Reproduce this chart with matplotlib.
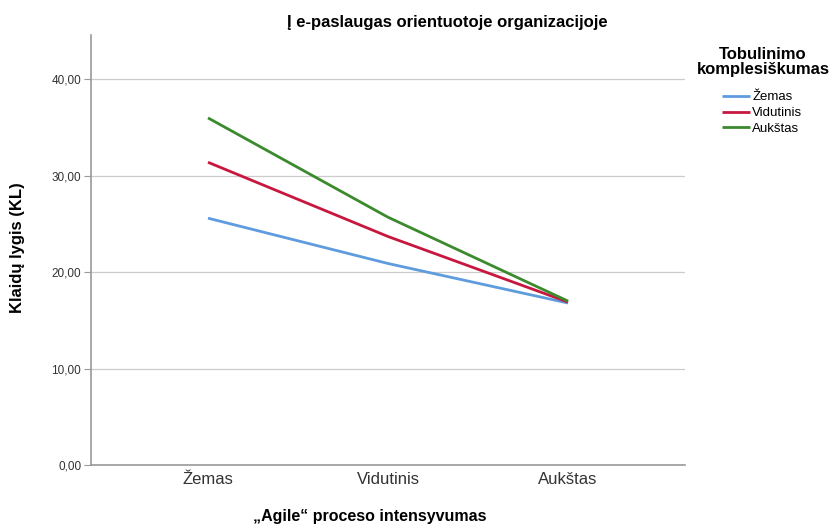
import matplotlib.pyplot as plt
from matplotlib.ticker import FuncFormatter

plt.rcParams['font.family'] = ['Liberation Sans', 'DejaVu Sans']

kategorijos = ["Žemas", "Vidutinis", "Aukštas"]
zemas = [25.6, 20.9, 16.8]
vidutinis = [31.4, 23.7, 16.9]
aukstas = [36.0, 25.7, 17.0]
serijos = ["Žemas", "Vidutinis", "Aukštas"]
spalvos = ["#5f9cde", "#c8173f", "#3b8a2e"]

fig = plt.figure(figsize=(8.33, 5.26), dpi=100)
ax = fig.add_axes([91/833, 1-465/526, (685-91)/833, (465-35)/526])

x = range(len(kategorijos))
for vals, lab, c in zip([zemas, vidutinis, aukstas], serijos, spalvos):
    ax.plot(x, vals, color=c, lw=2.0, label=lab, solid_capstyle="butt")

ax.set_xlim(-0.65, 2.65)
ax.set_ylim(0, 44.6)
ax.set_yticks([0, 10, 20, 30, 40])
ax.yaxis.set_major_formatter(FuncFormatter(lambda v, p: f"{v:.2f}".replace(".", ",")))
ax.set_xticks(list(x))
ax.set_xticklabels(kategorijos, fontsize=12, color="#333333")
ax.tick_params(axis="x", length=0, pad=5)
ax.tick_params(axis="y", length=5, color="#999999", labelsize=8.5, labelcolor="#333333", pad=2)
ax.grid(axis="y", color="#cccccc", lw=0.9)
ax.set_axisbelow(True)
for s in ["top", "right"]:
    ax.spines[s].set_visible(False)
for s in ["left", "bottom"]:
    ax.spines[s].set_color("#999999")
    ax.spines[s].set_linewidth(1.2)

fig.text(447/833, 1-22/526, "Į e-paslaugas orientuotoje organizacijoje", fontsize=12,
         fontweight="bold", ha="center", va="center")
fig.text(18/833, 1-248/526, "Klaidų lygis (KL)", fontsize=12, fontweight="bold",
         rotation=90, ha="center", va="center")
fig.text(370/833, 1-516/526, "„Agile“ proceso intensyvumas", fontsize=11.5, fontweight="bold",
         ha="center", va="center")

fig.text(763/833, 1-62/526, "Tobulinimo\nkomplesiškumas", fontsize=12, fontweight="bold",
         ha="center", va="center", linespacing=1.0)
leg = ax.legend(loc="upper left", bbox_to_anchor=(722/833, 1-91/526),
                bbox_transform=fig.transFigure, frameon=False, fontsize=9.5,
                handlelength=2.1, handletextpad=0.2, labelspacing=0.28,
                borderpad=0, borderaxespad=0)

fig.savefig("out.png", dpi=100)
